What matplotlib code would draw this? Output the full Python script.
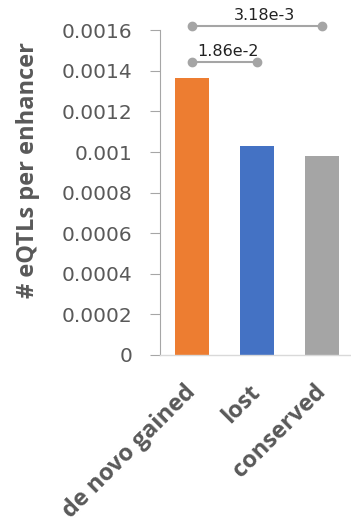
import matplotlib
matplotlib.use("Agg")
import matplotlib.pyplot as plt

categories = ["de novo gained", "lost", "conserved"]
values = [0.001367, 0.001028, 0.000983]
colors = ["#ED7D31", "#4472C4", "#A5A5A5"]
yticks = [0, 0.0002, 0.0004, 0.0006, 0.0008, 0.001, 0.0012, 0.0014, 0.0016]
ytick_labels = ["0", "0.0002", "0.0004", "0.0006", "0.0008", "0.001", "0.0012", "0.0014", "0.0016"]

# significance brackets: (left index, right index, height, label)
brackets = [(0, 2, 0.001623, "3.18e-3"), (0, 1, 0.001442, "1.86e-2")]
label_shift = [0.12, 0.05]

W, H = 351, 525
fig = plt.figure(figsize=(W / 100, H / 100), dpi=100)
x0, x1 = 159.5, 354.5
y0, y1 = 355, 30.3
ax = fig.add_axes([x0 / W, 1 - y0 / H, (x1 - x0) / W, (y0 - y1) / H])

xs = range(len(categories))
ax.bar(xs, values, width=0.51, color=colors, zorder=2)
ax.set_xlim(-0.5, 2.5)
ax.set_ylim(0, 0.0016)

ax.set_yticks(yticks)
ax.set_yticklabels(ytick_labels, fontsize=14.5, color="#595959", family="DejaVu Sans")
ax.tick_params(axis="y", length=7.5, width=0.8, color="#A6A6A6", pad=12)
ax.set_xticks(list(xs))
ax.set_xticklabels(categories, rotation=45, ha="right", va="center",
                   rotation_mode="anchor", fontsize=17, fontweight="bold",
                   color="#595959", family="Open Sans")
ax.tick_params(axis="x", length=0, pad=24)

for s in ["top", "right"]:
    ax.spines[s].set_visible(False)
ax.spines["left"].set_color("#A6A6A6")
ax.spines["left"].set_linewidth(0.8)
ax.spines["bottom"].set_color("#D9D9D9")
ax.spines["bottom"].set_linewidth(1.0)

ax.set_ylabel("# eQTLs per enhancer", fontsize=17, fontweight="bold",
              color="#595959", family="Open Sans")
ax.yaxis.set_label_coords(-0.615, 0.57)

for (i, j, h, lab), dx in zip(brackets, label_shift):
    ax.plot([i, j], [h, h], color="#A5A5A5", lw=1.5, marker="o", markersize=6,
            clip_on=False, zorder=3)
    ax.text((i + j) / 2 + dx, h + 0.000030, lab, ha="center", va="baseline",
            fontsize=11.5, color="#222222", family="DejaVu Sans")

fig.savefig("out.png", dpi=100)
